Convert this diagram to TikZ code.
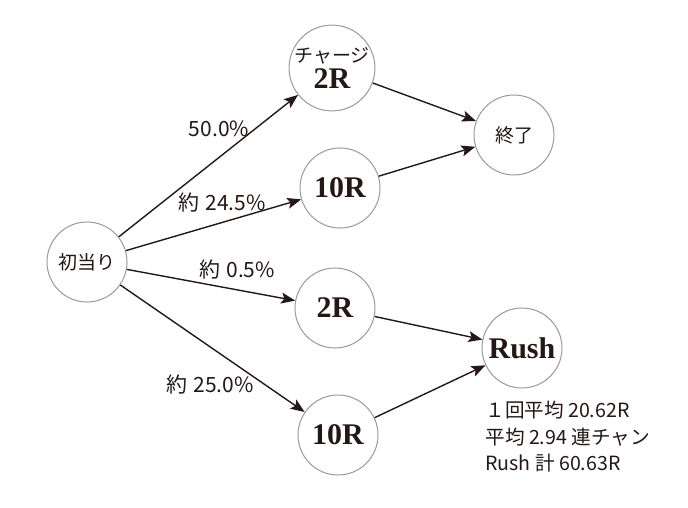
\documentclass[tikz,border=0pt]{standalone}
\usepackage{fontspec}
\setmainfont{Liberation Serif}
\newfontfamily\jpfont{Noto Sans CJK JP}
\usetikzlibrary{arrows.meta}
\definecolor{ink}{HTML}{231815}
\definecolor{rim}{HTML}{9A9A9A}
\newcommand\rtxt[1]{{\rmfamily\bfseries\fontsize{15}{16}\selectfont #1}}
\tikzset{
  st/.style={circle,draw=rim,line width=.5pt,fill=white,minimum size=40pt,inner sep=0pt,align=center,
    font=\jpfont\fontsize{9.5}{11}\selectfont,text=ink},
  pct/.style={font=\jpfont\fontsize{10.5}{12}\selectfont,text=ink},
  info/.style={font=\jpfont\fontsize{9.8}{13.25}\selectfont,text=ink,align=left,anchor=west,inner sep=0pt},
  ar/.style={-{Stealth[length=7pt,width=5.5pt,inset=1.5pt]},draw=ink,line width=.7pt},
}

\begin{document}
\begin{tikzpicture}[x=.5pt,y=-.5pt]
\useasboundingbox (0,0) rectangle (688,507);
% states
\node[st] (hit) at (87,262) {初当り};
\node[st] (chg) at (332,68) {\fontsize{9.5}{11}\selectfont チャージ\\[2pt]\rtxt{2R}};
\node[st] (tenA) at (340,188) {\rtxt{10R}};
\node[st] (fin) at (514,135) {終了};
\node[st] (two) at (335,308) {\rtxt{2R}};
\node[st] (rush) at (522,348) {\rtxt{Rush}};
\node[st] (tenB) at (338,435) {\rtxt{10R}};
% branches
\draw[ar] (hit) -- (chg);
\draw[ar] (hit) -- (tenA);
\draw[ar] (hit) -- (two);
\draw[ar] (hit) -- (tenB);
\draw[ar] (chg) -- (fin);
\draw[ar] (tenA) -- (fin);
\draw[ar] (two) -- (rush);
\draw[ar] (tenB) -- (rush);
% rates
\node[pct] (pA) at (219,129) {50.0\%};
\node[pct] (pB) at (222,203) {約\hspace{.3em}24.5\%};
\node[pct] (pC) at (237,270) {約\hspace{.3em}0.5\%};
\node[pct] (pD) at (210,385) {約\hspace{.3em}25.0\%};
\node[info] (note) at (485,437) {１回平均 20.62R\\平均 2.94 連チャン\\Rush 計 60.63R};
\end{tikzpicture}
\end{document}
